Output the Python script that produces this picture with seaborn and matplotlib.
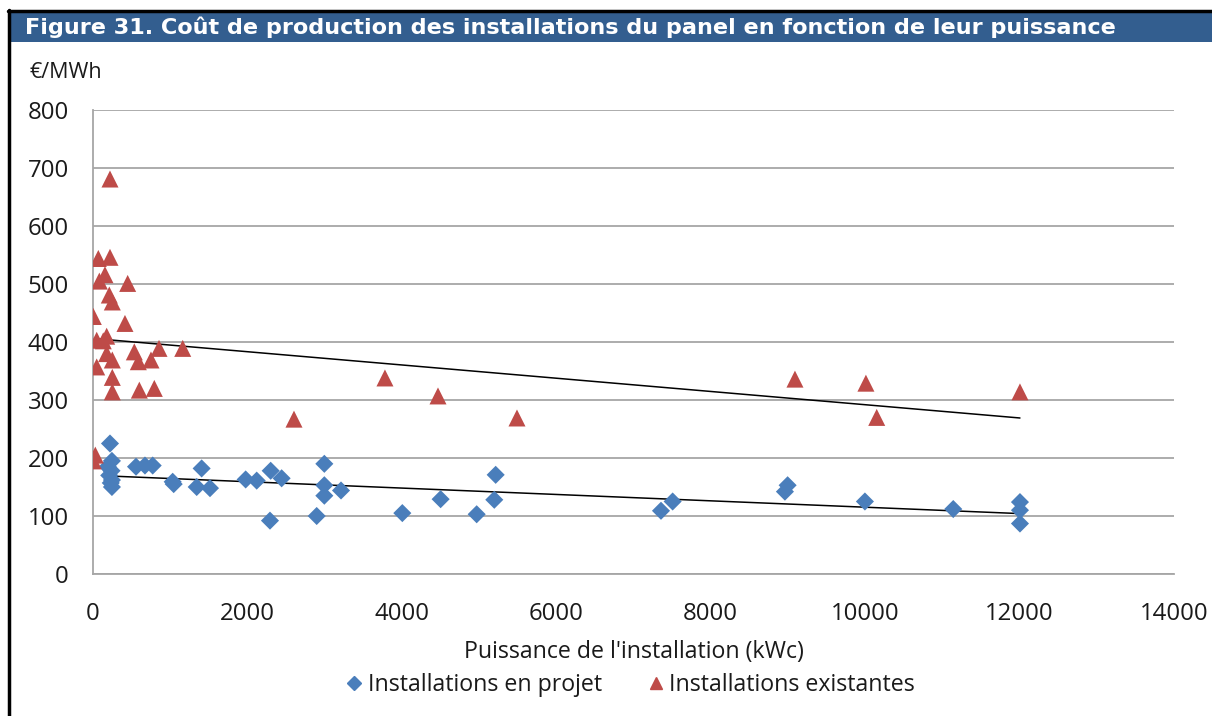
import numpy as np
import pandas as pd
import matplotlib
matplotlib.use("Agg")
import matplotlib.pyplot as plt
import seaborn as sns
from matplotlib.patches import Rectangle
from matplotlib.lines import Line2D

# ---- data ----
projet_kwc = [220, 245, 190, 240, 210, 245, 230, 245,
              557, 673, 773, 1032, 1045, 1407, 1343, 1515,
              1977, 2120, 2301, 2292, 2443, 2897, 2996, 2996, 2996, 3212,
              4006, 4502, 4969, 5215, 5197, 7356, 7507, 8961, 8996,
              9997, 11141, 12005, 12005, 12005]
projet_cout = [225, 195, 185, 178, 170, 162, 157, 150,
               185, 187, 187, 159, 155, 182, 150, 148,
               163, 161, 178, 92, 165, 100, 190, 153, 135, 144,
               105, 129, 103, 171, 128, 109, 125, 142, 153,
               125, 112, 124, 110, 87]

exist_kwc = [220, 69, 220, 155, 82, 449, 211, 250, 4, 414,
             177, 48, 133, 535, 855, 1162, 177, 250, 587, 751,
             48, 250, 600, 794, 250, 4, 30,
             2603, 3781, 4468, 5491, 9091, 10010, 10150, 12005]
exist_cout = [681, 544, 546, 516, 505, 501, 481, 469, 444, 432,
              410, 403, 402, 383, 389, 389, 380, 369, 366, 369,
              357, 339, 317, 320, 314, 195, 205,
              267, 338, 307, 269, 336, 329, 270, 314]

label_projet = "Installations en projet"
label_exist = "Installations existantes"
title = "Figure 31. Coût de production des installations du panel en fonction de leur puissance"
xlabel = "Puissance de l'installation (kWc)"
ylabel = "€/MWh"
xticks = [0, 2000, 4000, 6000, 8000, 10000, 12000, 14000]
yticks = [0, 100, 200, 300, 400, 500, 600, 700, 800]

df_p = pd.DataFrame({"kwc": projet_kwc, "cout": projet_cout})
df_e = pd.DataFrame({"kwc": exist_kwc, "cout": exist_cout})

sns.set_theme(style="white")
plt.rcParams["font.family"] = ["Open Sans", "DejaVu Sans"]

BLUE = "#4A7EBB"
RED = "#BE4B48"
GRID = "#A6A6A6"
TXT = "#1a1a1a"
FS = 16.7
FS_TICK = 17.3

W, H = 1212, 716
fig = plt.figure(figsize=(W / 100, H / 100), dpi=100)
ax = fig.add_axes([93 / W, 1 - 574 / H, (1174 - 93) / W, (574 - 110) / H])

sns.regplot(data=df_e, x="kwc", y="cout", ax=ax, scatter=False, ci=None,
            line_kws=dict(color="black", lw=1.1, zorder=2))
sns.regplot(data=df_p, x="kwc", y="cout", ax=ax, scatter=False, ci=None,
            line_kws=dict(color="black", lw=1.1, zorder=2))
sns.scatterplot(data=df_p, x="kwc", y="cout", ax=ax, marker="D", s=85,
                color=BLUE, edgecolor="none", zorder=3)
sns.scatterplot(data=df_e, x="kwc", y="cout", ax=ax, marker="^", s=150,
                color=RED, edgecolor="none", zorder=3)

ax.set_xlim(0, 14000)
ax.set_ylim(0, 800)
ax.set_xticks(xticks)
ax.set_yticks(yticks)
ax.set_xticklabels([str(v) for v in xticks])
ax.set_yticklabels([str(v) for v in yticks])
ax.yaxis.grid(True, color=GRID, lw=1.3)
ax.xaxis.grid(False)
for s in ["top", "right"]:
    ax.spines[s].set_visible(False)
for s in ["left", "bottom"]:
    ax.spines[s].set_color(GRID)
    ax.spines[s].set_linewidth(1.3)
ax.tick_params(axis="both", which="major", direction="out", length=7,
               width=1.3, color=GRID, labelsize=FS_TICK, labelcolor=TXT)
ax.tick_params(axis="x", pad=13)
ax.tick_params(axis="y", pad=10.5)
ax.set_xlabel(xlabel, fontsize=FS, color=TXT, labelpad=10)
ax.set_ylabel("")

fig.text(30 / W, 1 - 72 / H, ylabel, fontsize=15.5, color=TXT,
         ha="left", va="center")

# title banner and frame
fig.patches.append(Rectangle((10 / W, 1 - 42 / H), 1 - 10 / W, 30 / H,
                             transform=fig.transFigure, facecolor="#335E8F",
                             edgecolor="none", zorder=0))
fig.add_artist(Line2D([9 / W, 9 / W], [0, 1 - 10 / H], transform=fig.transFigure,
                      color="black", lw=2.5))
fig.add_artist(Line2D([8 / W, 1], [1 - 11 / H, 1 - 11 / H], transform=fig.transFigure,
                      color="black", lw=2.5))
fig.text(25 / W, 1 - 27.5 / H, title, fontsize=16.15, fontweight="bold",
         color="white", family="DejaVu Sans", ha="left", va="center")

handles = [Line2D([], [], ls="none", marker="D", color=BLUE, markersize=7),
           Line2D([], [], ls="none", marker="^", color=RED, markersize=9)]
fig.legend(handles, [label_projet, label_exist], loc="center",
           bbox_to_anchor=(630 / W, 1 - 685 / H), ncol=2, frameon=False,
           fontsize=FS, handletextpad=0.2, columnspacing=1.9,
           handlelength=0.8, labelcolor=TXT)

fig.savefig("out.png", dpi=100, facecolor="white")
